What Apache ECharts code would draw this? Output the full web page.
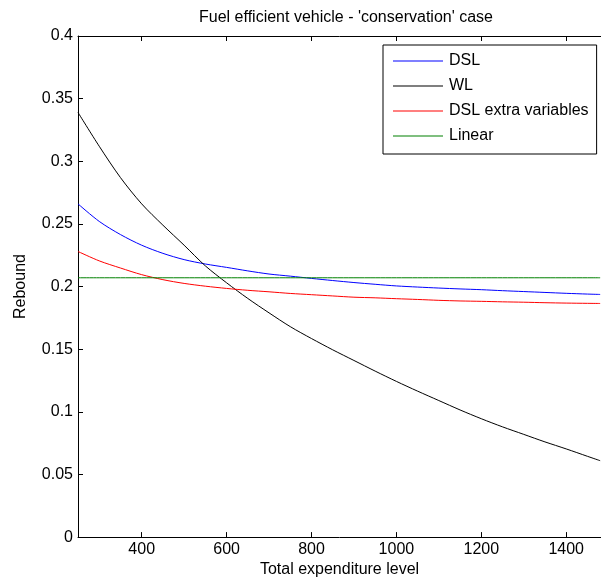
<!DOCTYPE html>
<html>
<head>
<meta charset="utf-8">
<script src="https://cdn.jsdelivr.net/npm/echarts@6/dist/echarts.min.js"></script>
<style>
  html, body { margin: 0; padding: 0; background: #fff; }
  #chart { width: 601px; height: 583px; }
</style>
</head>
<body>
<div id="chart"></div>
<script>
const expenditure = [250,300,350,400,450,500,550,600,650,700,750,800,850,900,950,1000,1050,1100,1150,1200,1250,1300,1350,1400,1450,1480];
const dsl = [0.266,0.252,0.2415,0.233,0.2265,0.2215,0.218,0.2153,0.2125,0.210,0.2083,0.2065,0.2048,0.2032,0.2018,0.2005,0.1996,0.1988,0.1981,0.1975,0.1967,0.196,0.1953,0.1946,0.194,0.1937];
const wl = [0.339,0.312,0.287,0.266,0.249,0.233,0.2165,0.203,0.1905,0.179,0.168,0.1585,0.1495,0.141,0.1325,0.1243,0.1165,0.109,0.1015,0.0945,0.088,0.082,0.076,0.0704,0.0645,0.061];
const dslExtra = [0.228,0.2205,0.2148,0.2095,0.2055,0.2025,0.2003,0.1985,0.197,0.1958,0.1945,0.1935,0.1925,0.1915,0.191,0.1903,0.1897,0.189,0.1885,0.1882,0.1878,0.1875,0.1871,0.1868,0.1866,0.1865];
const linear = [0.207,0.207,0.207,0.207,0.207,0.207,0.207,0.207,0.207,0.207,0.207,0.207,0.207,0.207,0.207,0.207,0.207,0.207,0.207,0.207,0.207,0.207,0.207,0.207,0.207,0.207];
const xTicks = [400,600,800,1000,1200,1400];
const seriesNames = ['DSL','WL','DSL extra variables','Linear'];

const font = 'Liberation Sans, Arial, Helvetica, sans-serif';
const pairs = arr => expenditure.map((x, i) => [x, arr[i]]);

const chart = echarts.init(document.getElementById('chart'), null, {renderer: 'canvas'});
const mk = (name, data, color) => ({
  name, type: 'line', data: pairs(data), symbol: 'none', showSymbol: false,
  smooth: 0.3,
  lineStyle: {color, width: 1}, itemStyle: {color}, animation: false, clip: true
});
chart.setOption({
  animation: false,
  backgroundColor: '#fff',
  title: {
    text: "Fuel efficient vehicle - 'conservation' case",
    left: 341, top: 5, textAlign: 'center',
    textStyle: {fontFamily: font, fontSize: 16, fontWeight: 'normal', color: '#000'}
  },
  grid: {left: 78, right: 0, top: 36, bottom: 45, containLabel: false},
  legend: {
    orient: 'vertical', left: 383, top: 45,
    padding: [8, 8, 10, 10],
    icon: 'rect',
    itemWidth: 50, itemHeight: 1, itemGap: 9,
    backgroundColor: '#fff', borderColor: '#000', borderWidth: 1,
    textStyle: {fontFamily: font, fontSize: 16, color: '#000', lineHeight: 14, padding: [0, 0, 0, 1]},
    data: seriesNames
  },
  xAxis: [{
    type: 'value', min: 250, max: 1482, position: 'bottom',
    name: 'Total expenditure level', nameLocation: 'middle', nameGap: 24,
    nameTextStyle: {fontFamily: font, fontSize: 16, color: '#000'},
    axisLine: {show: true, onZero: false, lineStyle: {color: '#000', width: 1}},
    axisTick: {show: true, inside: true, length: 5, customValues: xTicks, lineStyle: {color: '#000'}},
    axisLabel: {show: true, customValues: xTicks, margin: 4, fontFamily: font, fontSize: 16, color: '#000',
      formatter: v => String(v)},
    splitLine: {show: false}
  }, {
    type: 'value', min: 250, max: 1482, position: 'top',
    axisLine: {show: true, onZero: false, lineStyle: {color: '#000', width: 1}},
    axisTick: {show: true, inside: true, length: 5, customValues: xTicks, lineStyle: {color: '#000'}},
    axisLabel: {show: false},
    splitLine: {show: false}
  }],
  yAxis: {
    type: 'value', min: 0, max: 0.4, interval: 0.05,
    name: 'Rebound', nameLocation: 'middle', nameGap: 49, nameRotate: 90,
    nameTextStyle: {fontFamily: font, fontSize: 16, color: '#000'},
    axisLine: {show: true, onZero: false, lineStyle: {color: '#000', width: 1}},
    axisTick: {show: true, inside: true, length: 5, lineStyle: {color: '#000'}},
    axisLabel: {margin: 5, fontFamily: font, fontSize: 16, color: '#000',
      formatter: v => String(Math.round(v * 100) / 100)},
    splitLine: {show: false}
  },
  series: [
    mk(seriesNames[0], dsl, '#0000ff'),
    mk(seriesNames[1], wl, '#000000'),
    mk(seriesNames[2], dslExtra, '#ff0000'),
    mk(seriesNames[3], linear, '#008000')
  ]
});
</script>
</body>
</html>
